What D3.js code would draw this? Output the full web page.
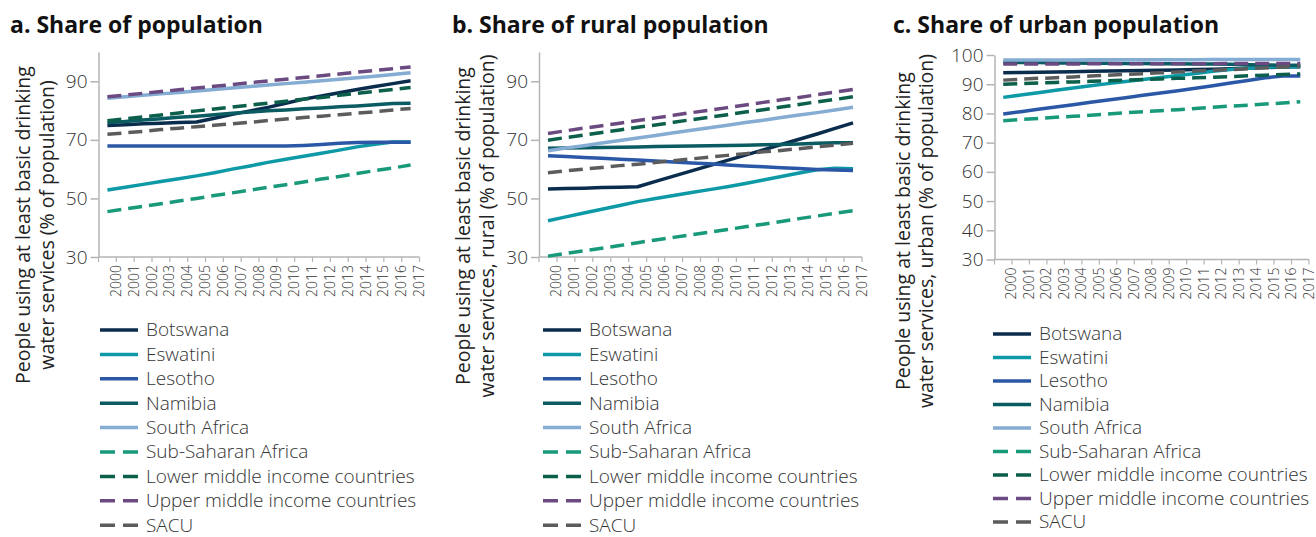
<!DOCTYPE html>
<html><head><meta charset="utf-8">
<script src="https://cdn.jsdelivr.net/npm/d3@7"></script>
<style>
html,body{margin:0;padding:0;background:#fff;}
svg{display:block;font-family:"Open Sans","Noto Sans",sans-serif;}
</style></head>
<body><svg id="chart" width="1316" height="537"></svg>
<script>
// ---------- DATA ----------
const years = [2000,2001,2002,2003,2004,2005,2006,2007,2008,2009,2010,2011,2012,2013,2014,2015,2016,2017];
const seriesNames = ["Botswana","Eswatini","Lesotho","Namibia","South Africa","Sub-Saharan Africa","Lower middle income countries","Upper middle income countries","SACU"];
const seriesColors = ["#0b2d4d","#0e99a6","#2b58a6","#0a5b62","#85acd3","#17997a","#0b5f4b","#6a4a80","#5c5c5c"];
const seriesDashed = [false,false,false,false,false,true,true,true,true];

const panelTitles = ["a. Share of population","b. Share of rural population","c. Share of urban population"];
const axisTitle1 = ["People using at least basic drinking","People using at least basic drinking","People using at least basic drinking"];
const axisTitle2 = ["water services (% of population)","water services, rural (% of population)","water services, urban (% of population)"];
const yTicksAB = [30,50,70,90];
const yTicksC = [30,40,50,60,70,80,90,100];

// a. total population
const totalBotswana = [74.9,75.2,75.5,75.7,75.9,76.1,77.4,78.7,79.9,81.1,82.5,83.9,85.0,86.1,87.2,88.2,89.2,90.2];
const totalEswatini = [52.9,53.8,54.8,55.8,56.7,57.7,58.8,60.0,61.1,62.3,63.4,64.4,65.4,66.5,67.6,68.5,69.3,69.3];
const totalLesotho = [67.9,67.9,67.9,67.9,67.9,67.9,67.9,67.9,67.9,67.9,67.9,68.1,68.4,68.8,69.1,69.2,69.2,69.2];
const totalNamibia = [75.8,76.3,76.8,77.2,77.7,78.1,78.6,79.1,79.5,79.9,80.2,80.6,80.9,81.3,81.6,82.0,82.4,82.5];
const totalSouthAfrica = [84.2,84.7,85.2,85.7,86.2,86.7,87.2,87.7,88.2,88.7,89.2,89.7,90.2,90.7,91.2,91.7,92.3,92.9];
const totalSSA = [45.5,46.4,47.3,48.2,49.1,50.0,51.0,51.9,52.8,53.8,54.7,55.6,56.6,57.5,58.5,59.5,60.4,61.4];
const totalLMIC = [76.5,77.2,77.8,78.5,79.2,79.9,80.5,81.2,81.9,82.5,83.2,83.9,84.5,85.2,85.9,86.5,87.2,87.9];
const totalUMIC = [84.7,85.3,85.9,86.5,87.1,87.7,88.3,88.9,89.5,90.1,90.7,91.3,91.9,92.5,93.1,93.7,94.3,94.9];
const totalSACU = [71.9,72.4,72.9,73.5,74.0,74.5,75.0,75.5,76.0,76.6,77.1,77.6,78.1,78.6,79.1,79.6,80.2,80.7];

// b. rural population
const ruralBotswana = [53.2,53.4,53.5,53.7,53.8,54.0,55.8,57.6,59.4,61.2,63.0,64.8,66.6,68.4,70.2,72.0,73.9,75.8];
const ruralEswatini = [42.4,43.7,45.0,46.3,47.6,48.9,50.0,51.0,52.0,53.0,54.0,55.1,56.3,57.5,58.7,59.8,60.3,60.1];
const ruralLesotho = [64.6,64.3,64.0,63.7,63.4,63.1,62.8,62.4,62.1,61.8,61.4,61.1,60.8,60.5,60.2,59.9,59.7,59.5];
const ruralNamibia = [67.1,67.2,67.3,67.4,67.5,67.6,67.7,67.8,67.9,68.0,68.1,68.2,68.3,68.4,68.6,68.8,69.0,69.0];
const ruralSouthAfrica = [66.3,67.2,68.0,68.9,69.8,70.6,71.5,72.4,73.3,74.1,75.0,75.9,76.7,77.6,78.5,79.3,80.2,81.1];
const ruralSSA = [30.3,31.2,32.1,33.0,33.9,34.9,35.8,36.7,37.6,38.5,39.4,40.3,41.2,42.1,43.1,44.0,44.9,45.8];
const ruralLMIC = [69.9,70.8,71.6,72.5,73.4,74.3,75.1,76.0,76.9,77.7,78.6,79.5,80.3,81.2,82.1,83.0,83.8,84.7];
const ruralUMIC = [72.2,73.1,74.0,74.8,75.7,76.6,77.5,78.4,79.3,80.1,81.0,81.9,82.8,83.7,84.5,85.4,86.3,87.2];
const ruralSACU = [58.8,59.4,60.0,60.6,61.2,61.7,62.3,62.9,63.5,64.1,64.7,65.3,65.9,66.4,67.0,67.6,68.2,68.8];

// c. urban population
const urbanBotswana = [93.9,94.0,94.1,94.2,94.3,94.4,94.5,94.6,94.7,94.8,94.9,95.0,95.1,95.3,95.5,95.7,95.9,96.0];
const urbanEswatini = [85.5,86.3,87.1,87.9,88.7,89.5,90.2,90.9,91.6,92.3,93.0,93.7,94.4,95.0,95.5,95.8,96.0,96.0];
const urbanLesotho = [79.8,80.6,81.4,82.2,83.0,83.8,84.6,85.4,86.2,87.0,87.8,88.6,89.5,90.4,91.3,92.2,92.8,92.8];
const urbanNamibia = [97.5,97.4,97.4,97.3,97.3,97.2,97.2,97.1,97.1,97.0,97.0,96.9,96.9,96.8,96.7,96.6,96.5,96.5];
const urbanSouthAfrica = [98.3,98.3,98.3,98.3,98.3,98.4,98.4,98.4,98.4,98.4,98.4,98.4,98.5,98.5,98.5,98.5,98.5,98.5];
const urbanSSA = [77.5,77.9,78.3,78.7,79.0,79.4,79.8,80.2,80.6,80.9,81.3,81.7,82.1,82.5,82.8,83.2,83.6,84.0];
const urbanLMIC = [90.0,90.2,90.4,90.6,90.8,91.0,91.2,91.4,91.6,91.8,92.0,92.2,92.4,92.6,92.9,93.1,93.3,93.5];
const urbanUMIC = [96.9,96.9,96.9,96.9,96.9,97.0,97.0,97.0,97.0,97.0,97.0,97.0,97.0,97.1,97.1,97.1,97.1,97.1];
const urbanSACU = [91.4,91.7,92.0,92.2,92.5,92.8,93.1,93.4,93.6,93.9,94.2,94.5,94.8,95.0,95.3,95.6,95.9,96.2];

const panelSeries = [
  [totalBotswana,totalEswatini,totalLesotho,totalNamibia,totalSouthAfrica,totalSSA,totalLMIC,totalUMIC,totalSACU],
  [ruralBotswana,ruralEswatini,ruralLesotho,ruralNamibia,ruralSouthAfrica,ruralSSA,ruralLMIC,ruralUMIC,ruralSACU],
  [urbanBotswana,urbanEswatini,urbanLesotho,urbanNamibia,urbanSouthAfrica,urbanSSA,urbanLMIC,urbanUMIC,urbanSACU]
];

// ---------- LAYOUT ----------
const layout = [
  {x0:98.5, x1:419.5, yTop:52, yBot:257, ticks:yTicksAB, titleX:10, ytX1:30, ytX2:54, ytY:225, legX:100, legY:330, legStep:24.4},
  {x0:539, x1:862, yTop:52, yBot:257, ticks:yTicksAB, titleX:452, ytX1:470, ytX2:494, ytY:226, legX:543, legY:330, legStep:24.4},
  {x0:994.5, x1:1309, yTop:55, yBot:259.5, ticks:yTicksC, titleX:893, ytX1:910, ytX2:933, ytY:231, legX:993, legY:334, legStep:23.5}
];

const svg = d3.select("#chart");
svg.append("rect").attr("width",1316).attr("height",537).attr("fill","#fff");
const axisColor = "#b4b4b4";
const textColor = "#333";

layout.forEach((L, p) => {
  const g = svg.append("g");
  const x = d3.scaleBand().domain(years).range([L.x0, L.x1]);
  const y = d3.scaleLinear().domain([30,100]).range([L.yBot, L.yTop]);

  // title
  g.append("text").attr("x", L.titleX).attr("y", 33)
    .attr("font-size", 23).attr("font-weight", 700).attr("fill", "#111")
    .text(panelTitles[p]);

  // axis title
  [[axisTitle1[p], L.ytX1],[axisTitle2[p], L.ytX2]].forEach(([t, xx]) => {
    g.append("text").attr("transform", `translate(${xx},${L.ytY}) rotate(-90)`)
      .attr("text-anchor","middle").attr("font-size", 19.5).attr("font-weight",400)
      .attr("fill", "#222").text(t);
  });

  // y axis
  const yAxis = g.append("g").attr("transform", `translate(${L.x0},0)`)
    .call(d3.axisLeft(y).tickValues(L.ticks).tickSize(8).tickPadding(3).tickSizeOuter(0));
  yAxis.select(".domain").attr("stroke", axisColor).attr("stroke-width", 1.5);
  yAxis.selectAll(".tick line").attr("stroke", axisColor).attr("stroke-width", 1.5);
  yAxis.selectAll(".tick text").attr("font-size", 19).attr("font-weight",300)
    .attr("fill", textColor).attr("font-family", "Open Sans");

  // x axis
  const xAxis = g.append("g").attr("transform", `translate(0,${L.yBot})`)
    .call(d3.axisBottom(x).tickSize(0).tickPadding(0));
  xAxis.select(".domain").remove();
  g.append("line").attr("x1", L.x0).attr("x2", L.x1).attr("y1", L.yBot).attr("y2", L.yBot)
    .attr("stroke", axisColor).attr("stroke-width", 1.5);
  // band boundary ticks
  const bounds = years.map(d => x(d)).concat([x(years[years.length-1]) + x.bandwidth()]);
  g.selectAll(".btick").data(bounds).join("line").attr("class","btick")
    .attr("x1", d => d).attr("x2", d => d).attr("y1", L.yBot).attr("y2", L.yBot + 5)
    .attr("stroke", axisColor).attr("stroke-width", 1.2);
  xAxis.selectAll(".tick text")
    .attr("x", 0).attr("y", 0).attr("dy", null)
    .attr("transform", `translate(${x.bandwidth()/2 + 4.5},8) rotate(-90)`)
    .attr("text-anchor", "end").attr("font-size", 14).attr("font-weight",300)
    .attr("fill", textColor).attr("font-family", "Open Sans");

  // lines
  const line = d3.line().x((d,i) => x(years[i]) + x.bandwidth()/2).y(d => y(d));
  panelSeries[p].forEach((vals, s) => {
    g.append("path").datum(vals).attr("d", line)
      .attr("fill","none").attr("stroke", seriesColors[s]).attr("stroke-width", 3.5)
      .attr("stroke-linejoin","round")
      .attr("stroke-dasharray", seriesDashed[s] ? "14,7" : null);
  });

  // legend
  const leg = g.append("g");
  seriesNames.forEach((n, s) => {
    const yy = L.legY + s * L.legStep;
    leg.append("line").attr("x1", L.legX).attr("x2", L.legX + 38).attr("y1", yy).attr("y2", yy)
      .attr("stroke", seriesColors[s]).attr("stroke-width", 3.5)
      .attr("stroke-dasharray", seriesDashed[s] ? "15,8" : null);
    leg.append("text").attr("x", L.legX + 46).attr("y", yy).attr("dy","0.34em")
      .attr("font-size", 19).attr("font-weight",300).attr("fill", textColor).text(n);
  });
});
</script>
</body></html>
